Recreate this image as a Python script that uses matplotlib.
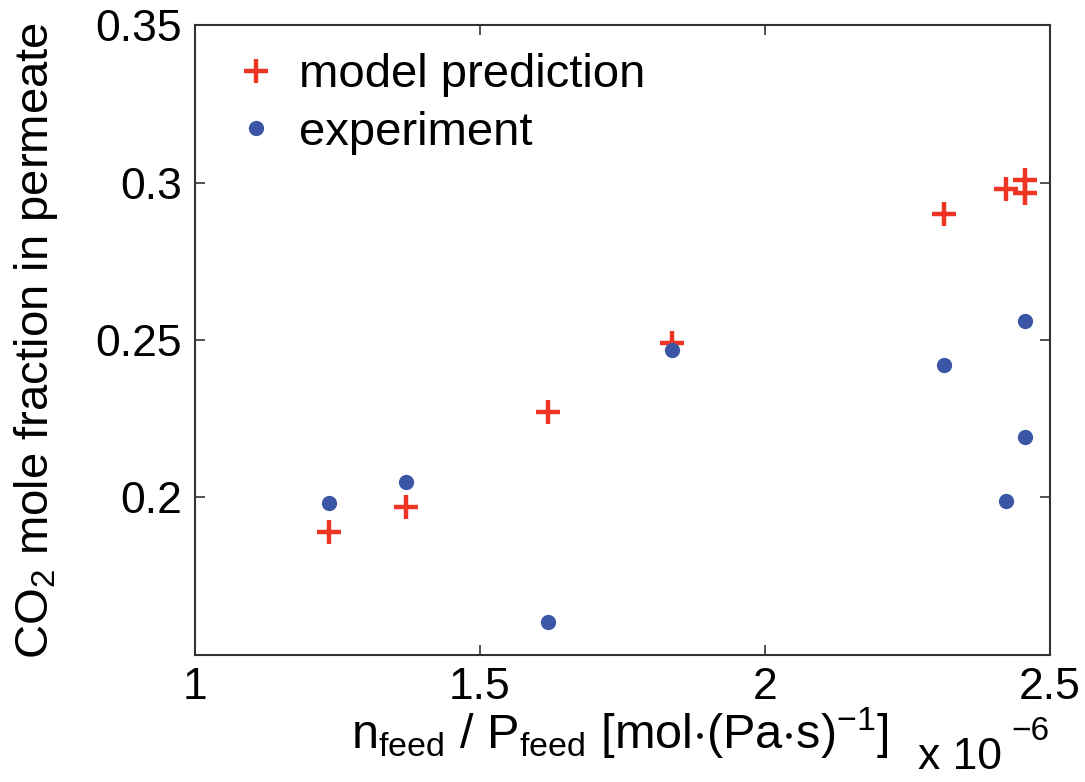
import matplotlib
matplotlib.use("Agg")
import matplotlib.pyplot as plt

plt.rcParams["font.family"] = ["Liberation Sans", "DejaVu Sans"]
plt.rcParams["mathtext.fontset"] = "custom"
plt.rcParams["mathtext.rm"] = "Liberation Sans"
plt.rcParams["mathtext.it"] = "Liberation Sans"

# x in units of 1e-6 mol/(Pa s)
x_model = [1.236, 1.370, 1.619, 1.837, 2.314, 2.423, 2.456, 2.456]
y_model = [0.1891, 0.1970, 0.2270, 0.2490, 0.2901, 0.2980, 0.3009, 0.2967]
x_exp = [1.236, 1.370, 1.619, 1.837, 2.314, 2.423, 2.456, 2.456]
y_exp = [0.1981, 0.2049, 0.1604, 0.2468, 0.2421, 0.1989, 0.2560, 0.2192]

xticks = [1, 1.5, 2, 2.5]
xtick_labels = ["1", "1.5", "2", "2.5"]
yticks = [0.2, 0.25, 0.3, 0.35]
ytick_labels = ["0.2", "0.25", "0.3", "0.35"]

fig = plt.figure(figsize=(10.85, 7.82), dpi=100)
ax = fig.add_axes([0.1793, 0.1629, 0.7884, 0.8045])

ax.plot(x_model, y_model, "+", color="#EE3524", markersize=17, markeredgewidth=3.2,
        label="model prediction")
ax.plot(x_exp, y_exp, "o", color="#3A56A5", markersize=11, markeredgewidth=0,
        label="experiment")

ax.set_xlim(1, 2.5)
ax.set_ylim(0.15, 0.35)
ax.set_xticks(xticks)
ax.set_xticklabels(xtick_labels)
ax.set_yticks(yticks)
ax.set_yticklabels(ytick_labels)
ax.tick_params(direction="in", length=7, width=1.2, labelsize=32, color="#333333",
               top=True, right=True, pad=9)
for s in ax.spines.values():
    s.set_color("#333333")
    s.set_linewidth(1.5)

ax.set_ylabel(r"CO$_2$ mole fraction in permeate", fontsize=34)
ax.yaxis.set_label_coords(-0.157, 0.5)
ax.set_xlabel(r"$\mathregular{n_{feed}\ /\ P_{feed}\ [mol{\cdot}(Pa{\cdot}s)^{-1}]}$",
              fontsize=35)
ax.xaxis.set_label_coords(0.497, -0.082)

# multiplier below the right end of the x axis
fig.text(0.846, 0.016, "x 10", fontsize=32, va="baseline")
fig.text(0.932, 0.054, "\u22126", fontsize=24, va="baseline")

ax.legend(loc="upper left", bbox_to_anchor=(0.022, 0.986), frameon=False, fontsize=34,
          handlelength=1.0, handletextpad=0.42, borderaxespad=0, borderpad=0.4,
          labelspacing=0.29, numpoints=1)

fig.savefig("out.png", dpi=100)
